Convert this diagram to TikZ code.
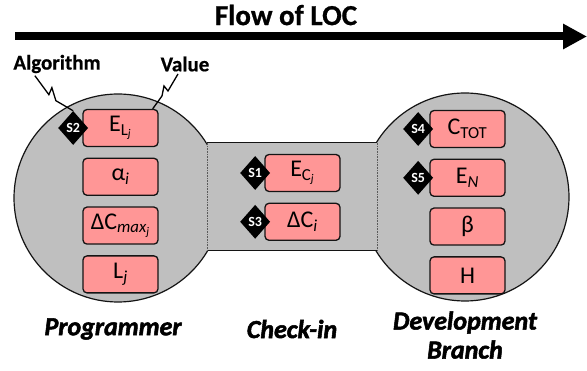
\documentclass[tikz,border=0pt]{standalone}
\usepackage{fontspec}
\setmainfont{Carlito}
\newfontfamily\heavyfont{Carlito}
\usetikzlibrary{positioning,arrows.meta,shapes.geometric}
\definecolor{hubc}{RGB}{191,191,191}
\definecolor{valc}{RGB}{255,150,150}
\definecolor{inkc}{RGB}{20,20,20}
\tikzset{
  hub/.style     = {circle, draw=inkc, line width=1.2pt, fill=hubc, inner sep=0pt,
                    minimum size=208pt},
  pipe/.style    = {fill=hubc, inner sep=0pt, minimum width=170pt, minimum height=107pt},
  rim/.style     = {draw=inkc, line width=1.2pt},
  seam/.style    = {draw=inkc!70, densely dotted, line width=0.6pt},
  val/.style     = {draw=inkc, line width=1.3pt, fill=valc, rounded corners=4pt,
                    minimum width=75pt, minimum height=37pt, inner sep=0pt,
                    font=\fontsize{24}{24}\selectfont},
  sig/.style     = {diamond, fill=black, text=white, inner sep=0pt, minimum width=30pt,
                    minimum height=34pt, font=\fontsize{14}{14}\selectfont\bfseries},
  tag/.style     = {font=\heavyfont\fontsize{21}{21}\selectfont\bfseries
                    \addfontfeature{FakeBold=0.6}},
  caption/.style = {font=\heavyfont\fontsize{26}{29}\selectfont\bfseries\itshape
                    \addfontfeature{FakeBold=2}, align=center},
  zap/.style     = {draw=black, line width=1.3pt, line join=miter},
  flow/.style    = {-{Triangle[length=24pt,width=24pt]}, line width=8pt, draw=black},
}

\begin{document}
\begin{tikzpicture}[x=1pt, y=-1pt, node distance=10.5pt]
\useasboundingbox (0,0) rectangle (587,371);

\coordinate (flowstart) at (15,36.5);
\coordinate (flowend) at (587,36.5);
\draw[flow] (flowstart) -- (flowend);
\node[tag, font=\heavyfont\fontsize{29}{29}\selectfont\bfseries\addfontfeature{FakeBold=0.8}]
  (title) at (286,15) {Flow of LOC};

\node[hub] (prog) at (118,198) {};
\node[hub] (branch) at (465,197) {};
\node[pipe] (chk) at (292,196.5) {};
\draw[rim] (chk.north west) -- (chk.north east);
\draw[rim] (chk.south west) -- (chk.south east);
\draw[seam] (chk.north west) -- (chk.south west);
\draw[seam] (chk.north east) -- (chk.south east);

\node[val] (elj) at (120.5,128) {E\textsubscript{L\textsubscript{\textit{j}}}};
\node[val, below=of elj] (alpha) {α\textsubscript{\textit{i}}};
\node[val, below=of alpha] (dcmax) {ΔC\textsubscript{\textit{max}\textsubscript{\textit{j}}}};
\node[val, below=of dcmax] (lj) {L\textsubscript{\textit{j}}};

\node[val] (ecj) at (302.5,173) {E\textsubscript{C\textsubscript{\textit{j}}}};
\node[val, below=of ecj] (dci) {ΔC\textsubscript{\textit{i}}};

\node[val] (ctot) at (467.5,129) {C\textsubscript{TOT}};
\node[val, below=of ctot] (en) {E\textsubscript{\textit{N}}};
\node[val, below=of en] (beta) {β};
\node[val, below=of beta] (h) {H};

\node[sig, left=-6pt of elj.west] (s2) {S2};
\node[sig, left=-6pt of ecj.west] (s1) {S1};
\node[sig, left=-6pt of dci.west] (s3) {S3};
\node[sig, left=-4pt of ctot.west] (s4) {S4};
\node[sig, left=-4pt of en.west] (s5) {S5};

\node[tag] (algo) at (57,64) {Algorithm};
\node[tag] (value) at (185,64) {Value};
\draw[zap] (algo.south west) ++(25,-1) coordinate (algofoot)
  -- ++(14,19) -- ++(3,-7) -- ++(4,13) -- (s2.north);
\draw[zap] (value.south) ++(-7,-1) coordinate (valuefoot)
  -- ++(-10,17) -- ++(-4,-5) -- ++(-2,10) -- ([xshift=-6pt]elj.north east);

\node[caption] (progcap) at (113,329) {Programmer};
\node[caption] (chkcap) at (292,329) {Check-in};
\node[caption] (branchcap) at (465,335) {Development\\Branch};

\end{tikzpicture}
\end{document}
